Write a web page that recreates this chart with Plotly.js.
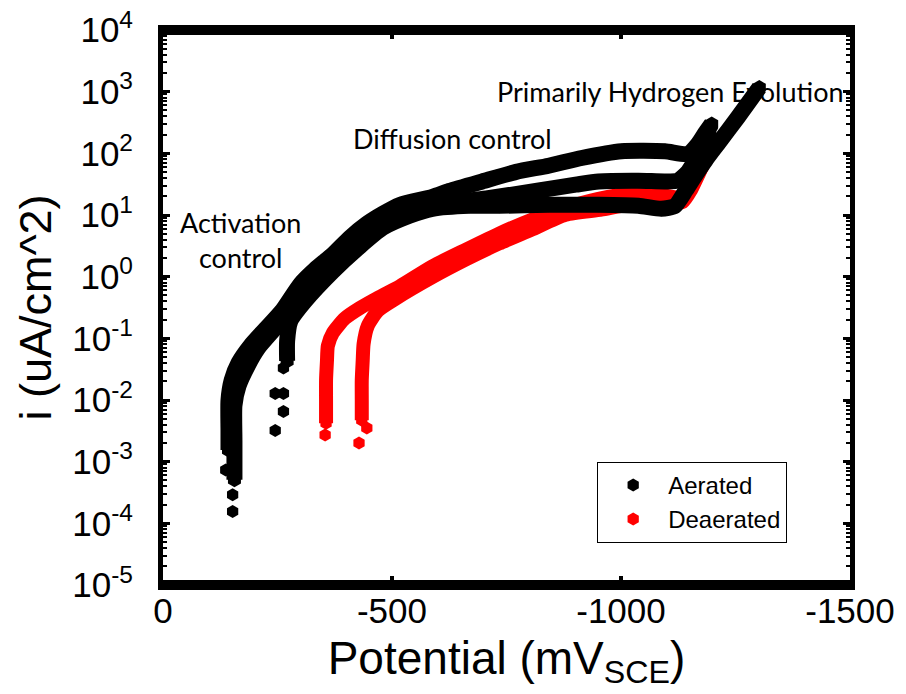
<!DOCTYPE html>
<html>
<head>
<meta charset="utf-8">
<script src="https://cdn.plot.ly/plotly-3.0.1.min.js"></script>
<style>html,body{margin:0;padding:0;background:#fff;}#chart{width:906px;height:694px;}</style>
</head>
<body>
<div id="chart"></div>
<script>
// ---- Data (potential in mV vs SCE, current density in uA/cm^2) ----
// Aerated scans
const aerA_V = [-143,-143,-143,-150,-165,-191,-224,-260,-300,-332,-371,-408,-445,-480,-517,-588,-625,-697,-771,-842,-914,-1001,-1096,-1146,-1168,-1185,-1198];
const aerA_i = [0.00154,0.0032,0.0099,0.021,0.040,0.076,0.142,0.28,0.76,1.31,2.30,4.3,7.2,10.5,14.6,19.7,24.5,35,50,63,84,108,108,98,141,219,300];

const aerB_V = [-156,-156,-156,-165,-185,-208,-239,-274,-310,-371,-430,-480,-538,-588,-706,-821,-901,-951,-1038,-1096,-1124,-1146,-1164,-1179,-1194];
const aerB_i = [0.00051,0.0022,0.0082,0.017,0.036,0.070,0.13,0.25,0.47,1.47,3.45,6.7,10.5,14.1,18.5,25,31,35,36,35,36,50,81,126,219];

const aerC_V = [-271,-271,-278,-310,-371,-430,-480,-538,-588,-669,-734,-842,-951,-1038,-1088,-1118,-1142,-1164,-1185,-1211,-1255,-1302];
const aerC_i = [0.043,0.091,0.19,0.40,1.22,3.1,6.2,9.7,12.6,14.1,14.1,14.6,14.6,14.1,12.6,14.1,25.5,46,78,141,383,1164];

const aerTail_V = [-152,-152,-137,-245,-263,-245,-263,-263];
const aerTail_i = [0.000155,0.00029,0.00073,0.0032,0.0065,0.0128,0.0128,0.033];

// Deaerated scans
const deaR1_V = [-356,-356,-356,-358,-360,-371,-397,-430,-473,-517,-588,-662,-734,-805,-879,-951,-1016,-1096,-1135,-1150,-1170,-1188,-1200];
const deaR1_i = [0.0042,0.0099,0.021,0.043,0.076,0.123,0.21,0.31,0.47,0.70,1.47,2.76,5.0,8.4,13.1,18.3,22,20.5,19,28.6,50,87,136];

const deaR2_V = [-434,-434,-434,-436,-438,-447,-469,-506,-588,-662,-734,-805,-879,-957,-1016,-1096,-1135,-1153,-1174,-1191,-1202];
const deaR2_i = [0.0047,0.0099,0.021,0.043,0.081,0.159,0.28,0.43,0.98,1.91,3.45,5.8,10.1,12.2,14.6,14.6,16.4,25.5,54,97,126];

const deaTail_V = [-354,-428,-445];
const deaTail_i = [0.0027,0.0020,0.0035];

// Axis ticks
const xTickVals = [0,-500,-1000,-1500];
const xTickText = ['0','-500','-1000','-1500'];
const yTickVals = [1e-5,1e-4,1e-3,1e-2,1e-1,1e0,1e1,1e2,1e3,1e4];
const yTickText = ['10<sup>-5</sup>','10<sup>-4</sup>','10<sup>-3</sup>','10<sup>-2</sup>','10<sup>-1</sup>','10<sup>0</sup>','10<sup>1</sup>','10<sup>2</sup>','10<sup>3</sup>','10<sup>4</sup>'];

const BLACK = '#000000', RED = '#ff0000';
function band(x, y, color, w, ms, name){
  return {x:x, y:y, type:'scatter', mode:'lines+markers', name:name, legendgroup:name, showlegend:false,
    line:{color:color, width:w, shape:'spline', smoothing:0.6},
    marker:{symbol:'hexagon', size:ms, color:color, line:{width:0}}, hoverinfo:'x+y'};
}
function tail(x, y, color, ms, name, rank){
  return {x:x, y:y, type:'scatter', mode:'markers', name:name, legendgroup:name, showlegend:true, legendrank:rank,
    marker:{symbol:'hexagon', size:ms, color:color, line:{width:0}}};
}

const traces = [
  band(deaR1_V, deaR1_i, RED, 14, 13, 'Deaerated'),
  band(deaR2_V, deaR2_i, RED, 14, 13, 'Deaerated'),
  tail(deaTail_V, deaTail_i, RED, 13, 'Deaerated', 2),
  band(aerA_V, aerA_i, BLACK, 16, 15, 'Aerated'),
  band(aerB_V, aerB_i, BLACK, 16, 15, 'Aerated'),
  band(aerC_V, aerC_i, BLACK, 16, 15, 'Aerated'),
  tail(aerTail_V, aerTail_i, BLACK, 13, 'Aerated', 1)
];

const FONT = 'Liberation Sans, Arial, sans-serif';
const ANNFONT = 'Lato, Open Sans, sans-serif';

const layout = {
  width:906, height:694,
  margin:{l:163, r:56, t:30, b:109},
  paper_bgcolor:'#fff', plot_bgcolor:'#fff',
  font:{family:FONT, color:'#000'},
  showlegend:true,
  xaxis:{
    range:[0,-1500], autorange:false,
    tickmode:'array', tickvals:xTickVals, ticktext:xTickText,
    ticks:'inside', ticklen:9, tickwidth:4, tickcolor:'#000',
    minor:{dtick:-250, ticks:'inside', ticklen:5, tickwidth:3, tickcolor:'#000'},
    showline:true, linewidth:5, linecolor:'#000', mirror:'allticks',
    showgrid:false, zeroline:false,
    tickfont:{size:35, family:FONT, color:'#000'},
    ticklabelstandoff:-9,
    title:{text:'Potential (mV<sub>SCE</sub>)', font:{size:46, family:FONT, color:'#000'}, standoff:14}
  },
  yaxis:{
    type:'log', range:[-5,4], autorange:false,
    tickmode:'array', tickvals:yTickVals, ticktext:yTickText,
    ticks:'inside', ticklen:7, tickwidth:3, tickcolor:'#000',
    minor:{dtick:'D1', ticks:'inside', ticklen:4, tickwidth:2, tickcolor:'#000'},
    showline:true, linewidth:5, linecolor:'#000', mirror:'allticks',
    showgrid:false, zeroline:false,
    tickfont:{size:35, family:FONT, color:'#000'},
    ticklabelstandoff:18,
    title:{text:'i (uA/cm^2)', font:{size:45, family:FONT, color:'#000'}, standoff:8}
  },
  legend:{
    x:0.632, y:0.222, xanchor:'left', yanchor:'top',
    bgcolor:'#fff', bordercolor:'#000', borderwidth:1,
    font:{size:24, family:FONT, color:'#000'},
    itemwidth:60, traceorder:'normal', tracegroupgap:0
  },
  annotations:[
    {xref:'paper', yref:'paper', x:0.739, y:0.890, xanchor:'center', yanchor:'middle', text:'Primarily Hydrogen Evolution', showarrow:false, font:{size:27, family:ANNFONT, color:'#000'}},
    {xref:'paper', yref:'paper', x:0.422, y:0.805, xanchor:'center', yanchor:'middle', text:'Diffusion control', showarrow:false, font:{size:27, family:ANNFONT, color:'#000'}},
    {xref:'paper', yref:'paper', x:0.1135, y:0.622, xanchor:'center', yanchor:'middle', text:'Activation<br>control', showarrow:false, align:'center', font:{size:27, family:ANNFONT, color:'#000'}}
  ]
};

Plotly.newPlot('chart', traces, layout, {displayModeBar:false, staticPlot:true});
</script>
</body>
</html>
